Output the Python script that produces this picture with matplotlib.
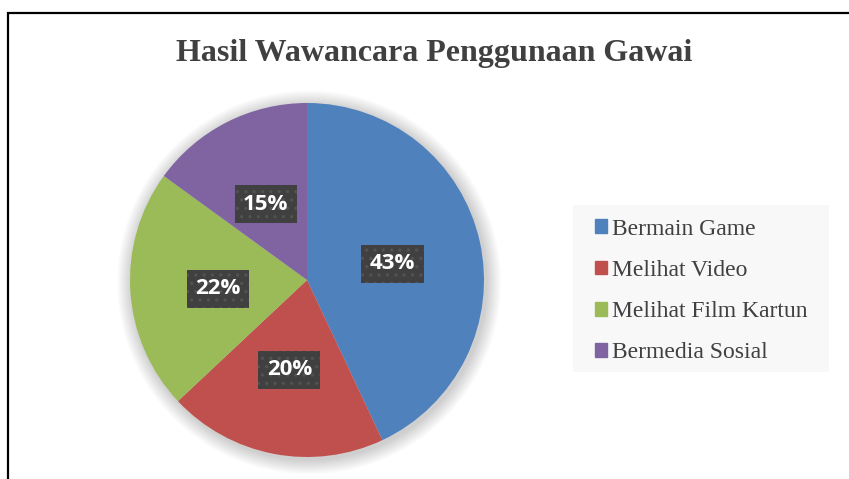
import matplotlib
matplotlib.use('Agg')
import matplotlib.pyplot as plt
import matplotlib.patches as mpatches
from matplotlib.transforms import offset_copy

# Data
categories = ['Bermain Game', 'Melihat Video', 'Melihat Film Kartun', 'Bermedia Sosial']
values = [43, 20, 22, 15]
colors = ['#4F81BD', '#C0504D', '#9BBB59', '#8064A2']
title = 'Hasil Wawancara Penggunaan Gawai'

plt.rcParams['hatch.color'] = '#575757'
plt.rcParams['hatch.linewidth'] = 1.2

W, H = 849, 479
fig = plt.figure(figsize=(W / 100, H / 100), dpi=100)
fig.patch.set_facecolor('white')

# outer frame (only left and top visible in the crop)
frame = mpatches.Rectangle((8 / W, -0.1), 1.2, (H - 13) / H + 0.1, transform=fig.transFigure,
                           fill=False, edgecolor='black', linewidth=1.6)
fig.patches.append(frame)

# pie axes placed by pixels: centre (307, 280), radius 177
cx, cy, r = 307, 280, 177
ax = fig.add_axes([(cx - r) / W, (H - cy - r) / H, 2 * r / W, 2 * r / H])

wedges, texts, autotexts = ax.pie(values, colors=colors, startangle=90, counterclock=False,
                                  autopct='%d%%', pctdistance=0.5, radius=1,
                                  wedgeprops=dict(linewidth=0, zorder=2),
                                  textprops=dict(color='white', fontsize=16, fontweight='bold',
                                                 family='Open Sans'))
shift = offset_copy(ax.transData, fig=fig, x=-1, y=-3, units='dots')
for t in autotexts:
    t.set_zorder(5)
    t.set_transform(shift)
    t.set_bbox(dict(boxstyle='square,pad=0.38', facecolor='#404040', edgecolor='#525252',
                    hatch='..', linewidth=0))

# soft shadow around the pie
for i in range(12):
    rad = 1.0 + 0.007 * (i + 1)
    ax.add_patch(mpatches.Circle((0.012, -0.014), rad, color='black', alpha=0.014, lw=0,
                                 zorder=0, clip_on=False))

ax.set_xlim(-1, 1)
ax.set_ylim(-1, 1)
ax.set_aspect('equal')
ax.axis('off')

fig.text(434 / W, 1 - 54 / H, title, ha='center', va='center', fontsize=23, fontweight='bold',
         family='Liberation Serif', color='#404040')

# legend background box
legbox = mpatches.Rectangle((573 / W, 1 - 372 / H), 256 / W, 167 / H, transform=fig.transFigure,
                            facecolor='#f8f8f8', edgecolor='none', zorder=0)
fig.patches.append(legbox)

handles = [mpatches.Patch(color=c, label=l) for c, l in zip(colors, categories)]
leg = fig.legend(handles=handles, loc='center', bbox_to_anchor=(701 / W, 1 - 291 / H),
                 prop=dict(family='Liberation Serif', size=17), frameon=False,
                 handlelength=0.5, handleheight=0.5, handletextpad=0.2,
                 labelspacing=0.86, borderpad=0.85, borderaxespad=0)
for t in leg.get_texts():
    t.set_color('#404040')

fig.savefig('out.png', dpi=100)
